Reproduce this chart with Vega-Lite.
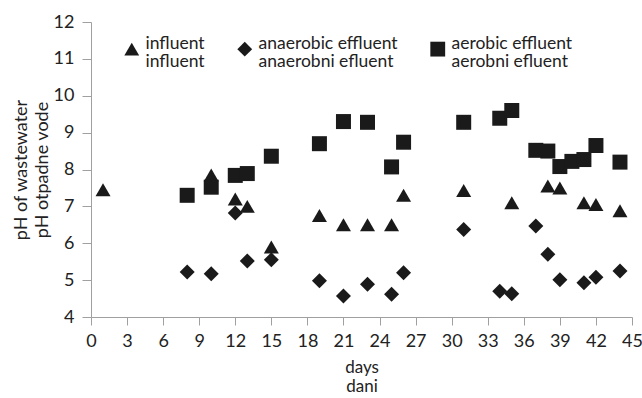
{
  "$schema": "https://vega.github.io/schema/vega-lite/v6.json",
  "width": 541,
  "height": 295,
  "autosize": {"type": "none"},
  "padding": {"left": 91, "top": 22, "right": 10, "bottom": 81},
  "background": "white",
  "config": {
    "view": {"stroke": null},
    "font": "Lato",
    "style": {"guide-label": {"lineHeight": 18}},
    "axis": {
      "grid": false,
      "domainColor": "#a0a0a0",
      "tickColor": "#a0a0a0",
      "labelColor": "#222222",
      "titleColor": "#222222",
      "labelFont": "Lato",
      "titleFont": "Lato",
      "labelFontSize": 18,
      "titleFontSize": 18,
      "titleFontWeight": "normal"
    }
  },
  "data": {
    "values": [
      {"day": 1, "pH": 7.45, "series": "influent"},
      {"day": 10, "pH": 7.85, "series": "influent"},
      {"day": 12, "pH": 7.2, "series": "influent"},
      {"day": 13, "pH": 7.0, "series": "influent"},
      {"day": 15, "pH": 5.9, "series": "influent"},
      {"day": 19, "pH": 6.75, "series": "influent"},
      {"day": 21, "pH": 6.5, "series": "influent"},
      {"day": 23, "pH": 6.5, "series": "influent"},
      {"day": 25, "pH": 6.5, "series": "influent"},
      {"day": 26, "pH": 7.3, "series": "influent"},
      {"day": 31, "pH": 7.43, "series": "influent"},
      {"day": 35, "pH": 7.1, "series": "influent"},
      {"day": 38, "pH": 7.55, "series": "influent"},
      {"day": 39, "pH": 7.5, "series": "influent"},
      {"day": 41, "pH": 7.1, "series": "influent"},
      {"day": 42, "pH": 7.05, "series": "influent"},
      {"day": 44, "pH": 6.88, "series": "influent"},
      {"day": 8, "pH": 5.22, "series": "anaerobic effluent"},
      {"day": 10, "pH": 5.17, "series": "anaerobic effluent"},
      {"day": 12, "pH": 6.82, "series": "anaerobic effluent"},
      {"day": 13, "pH": 5.52, "series": "anaerobic effluent"},
      {"day": 15, "pH": 5.55, "series": "anaerobic effluent"},
      {"day": 19, "pH": 4.98, "series": "anaerobic effluent"},
      {"day": 21, "pH": 4.57, "series": "anaerobic effluent"},
      {"day": 23, "pH": 4.89, "series": "anaerobic effluent"},
      {"day": 25, "pH": 4.62, "series": "anaerobic effluent"},
      {"day": 26, "pH": 5.2, "series": "anaerobic effluent"},
      {"day": 31, "pH": 6.37, "series": "anaerobic effluent"},
      {"day": 34, "pH": 4.7, "series": "anaerobic effluent"},
      {"day": 35, "pH": 4.63, "series": "anaerobic effluent"},
      {"day": 37, "pH": 6.47, "series": "anaerobic effluent"},
      {"day": 38, "pH": 5.7, "series": "anaerobic effluent"},
      {"day": 39, "pH": 5.01, "series": "anaerobic effluent"},
      {"day": 41, "pH": 4.93, "series": "anaerobic effluent"},
      {"day": 42, "pH": 5.08, "series": "anaerobic effluent"},
      {"day": 44, "pH": 5.25, "series": "anaerobic effluent"},
      {"day": 8, "pH": 7.3, "series": "aerobic effluent"},
      {"day": 10, "pH": 7.52, "series": "aerobic effluent"},
      {"day": 12, "pH": 7.84, "series": "aerobic effluent"},
      {"day": 13, "pH": 7.89, "series": "aerobic effluent"},
      {"day": 15, "pH": 8.36, "series": "aerobic effluent"},
      {"day": 19, "pH": 8.7, "series": "aerobic effluent"},
      {"day": 21, "pH": 9.3, "series": "aerobic effluent"},
      {"day": 23, "pH": 9.28, "series": "aerobic effluent"},
      {"day": 25, "pH": 8.07, "series": "aerobic effluent"},
      {"day": 26, "pH": 8.74, "series": "aerobic effluent"},
      {"day": 31, "pH": 9.28, "series": "aerobic effluent"},
      {"day": 34, "pH": 9.39, "series": "aerobic effluent"},
      {"day": 35, "pH": 9.6, "series": "aerobic effluent"},
      {"day": 37, "pH": 8.52, "series": "aerobic effluent"},
      {"day": 38, "pH": 8.5, "series": "aerobic effluent"},
      {"day": 39, "pH": 8.08, "series": "aerobic effluent"},
      {"day": 40, "pH": 8.22, "series": "aerobic effluent"},
      {"day": 41, "pH": 8.27, "series": "aerobic effluent"},
      {"day": 42, "pH": 8.65, "series": "aerobic effluent"},
      {"day": 44, "pH": 8.2, "series": "aerobic effluent"}
    ]
  },
  "mark": {"type": "point", "filled": true, "opacity": 1, "size": 225, "color": "#1a1a1a"},
  "encoding": {
    "x": {
      "field": "day",
      "type": "quantitative",
      "scale": {"domain": [0, 45], "nice": false, "zero": false},
      "axis": {
        "values": [0, 3, 6, 9, 12, 15, 18, 21, 24, 27, 30, 33, 36, 39, 42, 45],
        "title": ["days", "dani"],
        "titleFontSize": 17,
        "titleLineHeight": 19,
        "tickSize": 8,
        "labelPadding": 7,
        "titlePadding": 9,
        "labelFlush": false,
        "labelOverlap": false
      }
    },
    "y": {
      "field": "pH",
      "type": "quantitative",
      "scale": {"domain": [4, 12], "nice": false, "zero": false},
      "axis": {
        "values": [4, 5, 6, 7, 8, 9, 10, 11, 12],
        "title": ["pH of wastewater", "pH otpadne vode"],
        "titleLineHeight": 21,
        "tickSize": 9,
        "labelPadding": 8,
        "titlePadding": 2,
        "labelFlush": false,
        "labelOverlap": false
      }
    },
    "shape": {
      "field": "series",
      "type": "nominal",
      "scale": {
        "domain": ["influent", "anaerobic effluent", "aerobic effluent"],
        "range": ["triangle-up", "diamond", "square"]
      },
      "legend": {
        "title": null,
        "orient": "none",
        "legendX": 32,
        "legendY": 18,
        "direction": "horizontal",
        "columnPadding": 31,
        "symbolSize": 220,
        "symbolFillColor": "#1a1a1a",
        "symbolStrokeColor": "#1a1a1a",
        "symbolStrokeWidth": 0,
        "labelFont": "Lato",
        "labelFontSize": 17.5,
        "labelColor": "#222222",
        "labelBaseline": "alphabetic",
        "labelOffset": 5,
        "labelLimit": 400,
        "labelExpr": "datum.label == 'influent' ? ['influent', 'influent'] : datum.label == 'anaerobic effluent' ? ['anaerobic effluent', 'anaerobni efluent'] : ['aerobic effluent', 'aerobni efluent']"
      }
    }
  }
}
